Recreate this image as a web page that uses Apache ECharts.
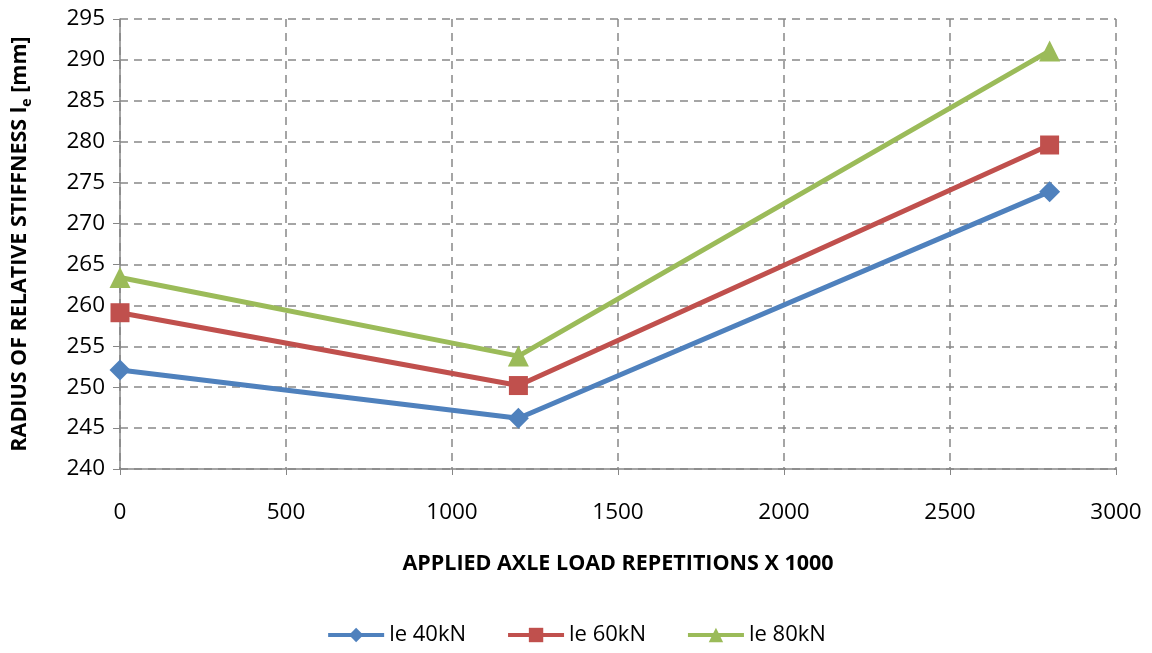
<!DOCTYPE html>
<html>
<head>
<meta charset="utf-8">
<script src="https://cdn.jsdelivr.net/npm/echarts@6/dist/echarts.min.js"></script>
<style>
  html, body { margin: 0; padding: 0; background: #fff; }
  #chart { width: 1152px; height: 653px; }
</style>
</head>
<body>
<div id="chart"></div>
<script>
// Load repetitions (x 1000) and radius of relative stiffness values (mm)
const repetitions = [0, 1200, 2800];
const le40 = [252.1, 246.2, 273.9];
const le60 = [259.1, 250.2, 279.6];
const le80 = [263.4, 253.8, 291.1];
const seriesNames = ['le 40kN', 'le 60kN', 'le 80kN'];
const colors = ['#4F81BD', '#C0504D', '#9BBB59'];

const font = '"Open Sans", sans-serif';

function pairs(values) {
  return repetitions.map((x, i) => [x, values[i]]);
}

const chart = echarts.init(document.getElementById('chart'));
const symbols = ['diamond', 'rect', 'triangle'];
const symbolSizes = [21, 19, 21];
const data = [le40, le60, le80];

chart.setOption({
  animation: false,
  backgroundColor: '#ffffff',
  color: colors,
  grid: { left: 120, right: 36, top: 19, bottom: 184, containLabel: false },
  xAxis: {
    type: 'value',
    min: 0, max: 3000, interval: 500,
    name: 'APPLIED AXLE LOAD REPETITIONS X 1000',
    nameLocation: 'middle',
    nameGap: 84,
    nameTextStyle: { fontFamily: font, fontWeight: 'bold', fontSize: 21.5, color: '#000' },
    axisLine: { show: true, lineStyle: { color: '#868686', width: 1.5 } },
    axisTick: { show: true, length: 6, lineStyle: { color: '#868686' } },
    axisLabel: { fontFamily: font, fontSize: 22.5, color: '#000', margin: 32, formatter: v => String(v) },
    splitLine: { show: true, lineStyle: { color: '#888', type: [8, 6], width: 1.5 } }
  },
  yAxis: {
    type: 'value',
    min: 240, max: 295, interval: 5,
    name: '{a|RADIUS OF RELATIVE STIFFNESS l}{s|e}{a| [mm]}',
    nameLocation: 'middle',
    nameGap: 86,
    nameRotate: 90,
    nameTextStyle: {
      rich: {
        a: { fontFamily: font, fontWeight: 'bold', fontSize: 21.5, color: '#000' },
        s: { fontFamily: font, fontWeight: 'bold', fontSize: 14, color: '#000', padding: [14, 0, 0, 0] }
      }
    },
    axisLine: { show: true, lineStyle: { color: '#868686', width: 1.5 } },
    axisTick: { show: true, length: 7, lineStyle: { color: '#868686' } },
    axisLabel: { fontFamily: font, fontSize: 22.5, color: '#000', margin: 15 },
    splitLine: { show: true, lineStyle: { color: '#888', type: [8, 6], width: 1.5 } }
  },
  legend: {
    bottom: 2,
    left: 'center',
    itemWidth: 56,
    itemHeight: 18,
    itemGap: 40,
    textStyle: { fontFamily: font, fontSize: 22, color: '#000' },
    lineStyle: { width: 4 },
    data: seriesNames
  },
  series: seriesNames.map((name, i) => ({
    name: name,
    type: 'line',
    data: pairs(data[i]),
    symbol: symbols[i],
    symbolSize: symbolSizes[i],
    showSymbol: true,
    lineStyle: { width: 5, color: colors[i] },
    itemStyle: { color: colors[i] }
  }))
});
</script>
</body>
</html>
